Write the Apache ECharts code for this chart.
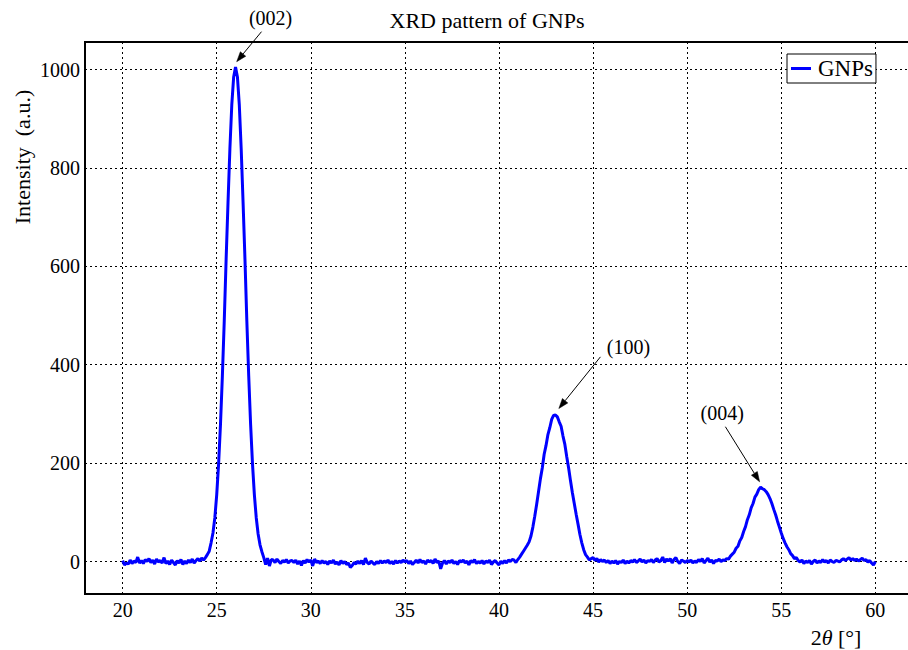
<!DOCTYPE html>
<html>
<head>
<meta charset="utf-8">
<script src="https://cdn.jsdelivr.net/npm/echarts@6/dist/echarts.min.js"></script>
<style>
html,body{margin:0;padding:0;background:#fff;overflow:hidden;}
#chart{width:920px;height:650px;}
</style>
</head>
<body>
<div id="chart"></div>
<script>
// ---- data (2θ step 0.1°) ----
const X_STEP = 0.1;

const base1Start = 20.0; // 20.0 - 24.4
const base1 = [
  2, -7, -3, -5, 3, -4, 1, -2, 9, -3,
  2, -4, 4, 0, 6, -2, 3, -5, 5, -1,
  2, -3, 8, -4, 1, -6, 3, -2, -7, 2,
  -3, 4, -6, 1, -4, 3, -2, 5, -3, 2,
  6, 1, 7, 3, 8
];

const peak002Start = 24.5; // 24.5 - 27.9
const peak002 = [
  14, 21, 38, 58, 89,
  136, 199, 279, 377, 489, 615, 730, 839, 928, 985,
  1005, 985, 928, 839, 730, 615, 489, 377, 279, 199,
  136, 89, 56, 34, 20, 8, -6, 7, -9, 4
];

const base2Start = 28.0; // 28.0 - 40.7
const base2 = [
  3, -2, 5, 0, -4, 2, -1, 4, -3, 1,
  2, -2, 3, -5, 1, -8, 2, -3, 4, -1,
  3, -9, 5, -2, 1, -4, 2, -3, 0, -6,
  1, -3, 3, -5, -1, -7, 2, -4, 0, -6,
  -3, -12, -8, -2, -5, 1, -4, 2, -6, 7,
  -2, -5, 1, -3, -6, 0, -4, 2, -3, 1,
  -2, 3, -4, 0, -5, 2, -3, 1, -2, 3,
  -1, 2, -4, 1, -6, -2, 3, -3, 4, -2,
  1, -5, 3, -1, 2, -4, 5, -2, 1, -15,
  -3, 2, -5, 1, -2, 3, -4, 0, -6, 2,
  -1, 3, -3, 1, -7, 2, -2, 4, -4, 0,
  -3, 2, -5, 1, -2, 3, -6, -1, 2, -3,
  -7, 1, -4, 2, -3, 3, 0, 4
];

const peak100Start = 40.8; // 40.8 - 44.9
const peak100 = [
  3, -2,
  4, 9, 15, 21, 27, 33, 40, 52, 70, 92,
  116, 142, 168, 190, 218, 236, 258, 272, 289, 297,
  298, 294, 284, 275, 255, 238, 213, 190, 164, 140,
  118, 96, 76, 55, 38, 24, 14, 9, 3, 6
];

const base3Start = 45.0; // 45.0 - 51.9
const base3 = [
  8, 2, 6, -1, 4, 0, 3, -2, 2, -4,
  1, -3, 2, -5, 0, -2, 3, -4, 1, -3,
  2, -1, 4, -2, 1, 5, -1, 3, -3, 2,
  0, 4, -2, 3, 6, -1, 2, 9, -2, 5,
  1, 6, -3, 4, 8, 0, -4, 3, 1, -2,
  2, -1, 3, -3, 1, -2, 4, 0, 6, -3,
  2, 7, -1, 3, -4, 2, 1, 5, 0, 3
];

const peak004Start = 52.0; // 52.0 - 55.9
const peak004 = [
  2, 6, 5, 11, 15, 19, 27, 31, 42, 49,
  61, 71, 85, 95, 109, 118, 131, 137, 146, 151,
  148, 146, 142, 136, 128, 118, 106, 95, 82, 70,
  58, 47, 38, 30, 24, 16, 12, 6, 8, 2
];

const base4Start = 56.0; // 56.0 - 60.0
const base4 = [
  -1, 3, -4, 1, -2, 2, -5, 0, 3, -3,
  1, -2, 4, -1, 2, -3, 3, 0, -2, 2,
  1, -1, 3, 6, 2, 5, 8, 3, 6, 2,
  5, 1, 4, 7, 2, 4, -1, 2, -3, -7,
  0
];

// peak annotations (data coordinates)
const annotationLabels = ['(002)', '(100)', '(004)'];
const annotationTips   = [[26.06, 1016], [43.18, 311], [53.85, 162]];
const annotationTails  = [[27.38, 1077], [45.39, 416], [52.03, 274]];
const annotationTextAt = [[27.86, 1105], [46.88, 436], [51.86, 302]];

const seriesName = 'GNPs';
const titleText = 'XRD pattern of GNPs';
const yLabelText = 'Intensity  (a.u.)';

// ---- build series points ----
function segPoints(start, vals) {
  return vals.map((v, i) => [Math.round((start + i * X_STEP) * 10) / 10, v]);
}
const points = [].concat(
  segPoints(base1Start, base1),
  segPoints(peak002Start, peak002),
  segPoints(base2Start, base2),
  segPoints(peak100Start, peak100),
  segPoints(base3Start, base3),
  segPoints(peak004Start, peak004),
  segPoints(base4Start, base4)
);

const FONT = '"Liberation Serif", "Times New Roman", serif';
const gridLine = { show: true, lineStyle: { color: '#000', width: 1, type: [2, 3] } };

const chart = echarts.init(document.getElementById('chart'), null, { renderer: 'svg' });
chart.setOption({
  animation: false,
  backgroundColor: '#fff',
  grid: {
    left: 85, top: 42, width: 828, height: 552,
    show: true, borderColor: '#000', borderWidth: 2, backgroundColor: 'transparent'
  },
  legend: {
    data: [seriesName],
    left: 787, top: 54,
    padding: [3, 3, 3, 4],
    itemWidth: 20, itemHeight: 3, itemGap: 0,
    icon: 'rect',
    borderColor: '#000', borderWidth: 1, borderRadius: 0,
    backgroundColor: '#fff',
    textStyle: { fontFamily: FONT, fontSize: 23, color: '#000', padding: [0, 0, 0, 2] }
  },
  xAxis: {
    type: 'value', min: 18, max: 62, splitNumber: 9,
    axisLine: { show: false }, axisTick: { show: false },
    axisLabel: {
      fontFamily: FONT, fontSize: 20, color: '#000', margin: 6,
      formatter: v => (Math.abs(v % 5) < 1e-9 ? String(v) : '')
    },
    splitLine: gridLine
  },
  yAxis: {
    type: 'value', min: -66, max: 1056, splitNumber: 6,
    axisLine: { show: false }, axisTick: { show: false },
    axisLabel: {
      fontFamily: FONT, fontSize: 20, color: '#000', margin: 5,
      formatter: v => (Math.abs(v % 200) < 1e-9 ? String(v) : '')
    },
    splitLine: gridLine
  },
  series: [
    {
      type: 'line', name: seriesName, data: points,
      symbol: 'none', showSymbol: false, smooth: false,
      lineStyle: { color: '#0000ff', width: 3 },
      itemStyle: { color: '#0000ff' },
      z: 3
    },
    {
      type: 'custom', name: 'annotations', clip: false, silent: true, z: 5,
      data: annotationLabels.map((t, i) => [
        annotationTips[i][0], annotationTips[i][1],
        annotationTails[i][0], annotationTails[i][1],
        annotationTextAt[i][0], annotationTextAt[i][1], i
      ]),
      encode: { x: 0, y: 1 },
      renderItem: function (params, api) {
        const tip = api.coord([api.value(0), api.value(1)]);
        const tail = api.coord([api.value(2), api.value(3)]);
        const txt = api.coord([api.value(4), api.value(5)]);
        const idx = api.value(6);
        const dx = tip[0] - tail[0], dy = tip[1] - tail[1];
        const L = Math.hypot(dx, dy), ux = dx / L, uy = dy / L;
        const hl = 10, hw = 3.5;
        const bx = tip[0] - ux * hl, by = tip[1] - uy * hl;
        return {
          type: 'group',
          children: [
            { type: 'line', shape: { x1: tail[0], y1: tail[1], x2: bx, y2: by },
              style: { stroke: '#000', lineWidth: 1 } },
            { type: 'polygon',
              shape: { points: [tip, [bx - uy * hw, by + ux * hw], [bx + uy * hw, by - ux * hw]] },
              style: { fill: '#000', stroke: '#000', lineWidth: 0.5 } },
            { type: 'text', x: txt[0], y: txt[1],
              style: { text: annotationLabels[idx], fill: '#000', fontSize: 20, fontFamily: FONT,
                       align: 'center', verticalAlign: 'middle',
                       textAlign: 'center', textVerticalAlign: 'middle' } }
          ]
        };
      }
    }
  ],
  graphic: [
    { type: 'text', x: 487, y: 20, z: 10,
      style: { text: titleText, fill: '#000', fontSize: 22, fontFamily: FONT,
               align: 'center', verticalAlign: 'middle', textAlign: 'center', textVerticalAlign: 'middle' } },
    { type: 'text', x: 22, y: 157, rotation: Math.PI / 2, z: 10,
      style: { text: yLabelText, fill: '#000', fontSize: 22, fontFamily: FONT,
               align: 'center', verticalAlign: 'middle', textAlign: 'center', textVerticalAlign: 'middle' } },
    { type: 'text', x: 836, y: 637, z: 10,
      style: { text: '2{i|θ} [°]', fill: '#000', fontSize: 22, fontFamily: FONT,
               align: 'center', verticalAlign: 'middle', textAlign: 'center', textVerticalAlign: 'middle',
               rich: { i: { fontStyle: 'italic', fontSize: 22, fontFamily: FONT, fill: '#000' } } } }
  ]
});
</script>
</body>
</html>
